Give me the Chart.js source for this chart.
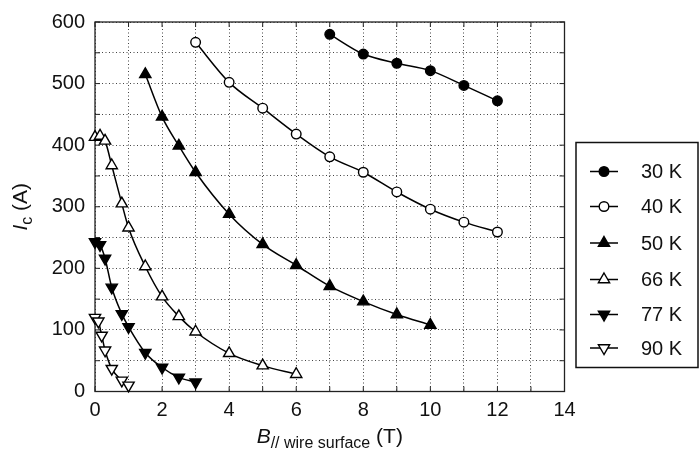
<!DOCTYPE html>
<html>
<head>
<meta charset="utf-8">
<script src="https://cdn.jsdelivr.net/npm/chart.js@4"></script>
<style>
  html, body { margin: 0; padding: 0; background: #fff; }
  #wrap { width: 700px; height: 452px; }
</style>
</head>
<body>
<div id="wrap"><canvas id="icChart" width="700" height="452"></canvas></div>
<script>
// critical current vs. field parallel to the wire surface, per temperature
const labels = ["30 K", "40 K", "50 K", "66 K", "77 K", "90 K"];

const field30 = [7, 8, 9, 10, 11, 12];
const ic30 = [580, 548, 533, 521, 497, 472];

const field40 = [3, 4, 5, 6, 7, 8, 9, 10, 11, 12];
const ic40 = [567, 502, 460, 418, 381, 356, 324, 296, 275, 259];

const field50 = [1.5, 2, 2.5, 3, 4, 5, 6, 7, 8, 9, 10];
const ic50 = [515, 446, 399, 356, 288, 239, 205, 171, 146, 125, 108];

const field66 = [0, 0.15, 0.3, 0.5, 0.8, 1, 1.5, 2, 2.5, 3, 4, 5, 6];
const ic66 = [413, 415, 407, 367, 305, 266, 203, 154, 122, 97, 62, 42, 28];

const field77 = [0, 0.15, 0.3, 0.5, 0.8, 1, 1.5, 2, 2.5, 3];
const ic77 = [243, 238, 216, 169, 126, 105, 63, 39, 23, 15];

const field90 = [0, 0.1, 0.2, 0.3, 0.5, 0.8, 1];
const ic90 = [120, 114, 91, 67, 37, 18, 10];

const xTicks = [0, 2, 4, 6, 8, 10, 12, 14];
const yTicks = [0, 100, 200, 300, 400, 500, 600];

const FONT = "'Liberation Sans', Arial, sans-serif";

function pts(xs, ys) {
  return xs.map((x, i) => ({ x: x, y: ys[i] }));
}

// marker look per series: [style, filled, rotation, radius]
const markers = [
  ["circle", true, 0, 4.8],
  ["circle", false, 0, 4.8],
  ["triangle", true, 0, 6.5],
  ["triangle", false, 0, 6.5],
  ["triangle", true, 180, 6.5],
  ["triangle", false, 180, 6.5]
];

const series = [
  pts(field30, ic30), pts(field40, ic40), pts(field50, ic50),
  pts(field66, ic66), pts(field77, ic77), pts(field90, ic90)
];

const datasets = series.map((data, i) => {
  const [style, filled, rot, r] = markers[i];
  return {
    label: labels[i],
    data,
    showLine: true,
    cubicInterpolationMode: "monotone",
    borderColor: "#000",
    borderWidth: 1.5,
    pointStyle: style,
    pointRotation: rot,
    pointRadius: r,
    pointBorderWidth: 1.4,
    pointBackgroundColor: filled ? "#000" : "#fff",
    pointBorderColor: "#000",
    clip: false
  };
});

// frame + inward tick marks (every grid step) on all four sides
const framePlugin = {
  id: "frame",
  beforeDatasetsDraw(chart) {
    const { ctx, chartArea: a, scales } = chart;
    ctx.save();
    ctx.strokeStyle = "#222";
    ctx.lineWidth = 1.3;
    ctx.strokeRect(a.left, a.top, a.right - a.left, a.bottom - a.top);
    ctx.lineWidth = 1;
    ctx.beginPath();
    for (let v = 0; v <= 14; v++) {
      const x = scales.x.getPixelForValue(v);
      ctx.moveTo(x, a.bottom); ctx.lineTo(x, a.bottom - 5);
      ctx.moveTo(x, a.top); ctx.lineTo(x, a.top + 5);
    }
    for (let v = 0; v <= 600; v += 50) {
      const y = scales.y.getPixelForValue(v);
      ctx.moveTo(a.left, y); ctx.lineTo(a.left + 5, y);
      ctx.moveTo(a.right, y); ctx.lineTo(a.right - 5, y);
    }
    ctx.stroke();
    ctx.restore();
  }
};

// axis titles with italic symbols and subscripts
const titlePlugin = {
  id: "titles",
  afterDraw(chart) {
    const { ctx, chartArea: a } = chart;
    ctx.save();
    ctx.fillStyle = "#111";
    ctx.textBaseline = "alphabetic";
    ctx.textAlign = "left";

    // x title: B// wire surface (T)
    const xParts = [
      { t: "B", f: "italic 21px " + FONT, dy: 0 },
      { t: "// wire surface", f: "16px " + FONT, dy: 5 },
      { t: " (T)", f: "21px " + FONT, dy: 0 }
    ];
    let w = 0;
    xParts.forEach(p => { ctx.font = p.f; w += ctx.measureText(p.t).width; });
    let x = (a.left + a.right) / 2 - w / 2;
    xParts.forEach(p => {
      ctx.font = p.f;
      ctx.fillText(p.t, x, 443 + p.dy);
      x += ctx.measureText(p.t).width;
    });

    // y title: Ic (A), rotated
    const yParts = [
      { t: "I", f: "italic 21px " + FONT, dy: 0 },
      { t: "c", f: "16px " + FONT, dy: 5 },
      { t: " (A)", f: "21px " + FONT, dy: 0 }
    ];
    w = 0;
    yParts.forEach(p => { ctx.font = p.f; w += ctx.measureText(p.t).width; });
    ctx.translate(27, (a.top + a.bottom) / 2);
    ctx.rotate(-Math.PI / 2);
    x = -w / 2;
    yParts.forEach(p => {
      ctx.font = p.f;
      ctx.fillText(p.t, x, p.dy);
      x += ctx.measureText(p.t).width;
    });
    ctx.restore();
  }
};

// boxed legend on the right
const legendPlugin = {
  id: "boxLegend",
  afterDraw(chart) {
    const { ctx } = chart;
    const box = { left: 576, top: 142.5, right: 698, bottom: 367.5 };
    const rowY = [171.5, 206.5, 243, 279.5, 314.5, 348];
    ctx.save();
    ctx.strokeStyle = "#111";
    ctx.lineWidth = 1.5;
    ctx.strokeRect(box.left, box.top, box.right - box.left, box.bottom - box.top);
    chart.data.datasets.forEach((ds, i) => {
      const y = rowY[i];
      ctx.strokeStyle = "#000";
      ctx.lineWidth = 1.5;
      ctx.beginPath();
      ctx.moveTo(590, y); ctx.lineTo(618, y);
      ctx.stroke();
      ctx.fillStyle = ds.pointBackgroundColor;
      ctx.lineWidth = 1.4;
      Chart.helpers.drawPoint(ctx, {
        pointStyle: ds.pointStyle,
        rotation: ds.pointRotation,
        radius: ds.pointRadius,
        borderWidth: 1.4
      }, 604, y);
      ctx.fillStyle = "#111";
      ctx.font = "20px " + FONT;
      ctx.textBaseline = "middle";
      ctx.fillText(ds.label, 641, y + 1);
    });
    ctx.restore();
  }
};

const ctx = document.getElementById("icChart").getContext("2d");
new Chart(ctx, {
  type: "scatter",
  data: { datasets },
  options: {
    responsive: false,
    animation: false,
    layout: { padding: { left: 0, top: 18, right: 135.5, bottom: 0 } },
    plugins: {
      legend: { display: false },
      tooltip: { enabled: false }
    },
    scales: {
      x: {
        type: "linear",
        min: 0,
        max: 14,
        afterFit: s => { s.height = 60.5; },
        border: { display: false, dash: [1, 2.5] },
        grid: { color: "#444", lineWidth: 1, drawTicks: false },
        ticks: {
          stepSize: 1,
          autoSkip: false,
          maxRotation: 0,
          padding: 7,
          color: "#111",
          font: { family: FONT, size: 20 },
          callback: v => (xTicks.includes(v) ? String(v) : "")
        }
      },
      y: {
        type: "linear",
        min: 0,
        max: 600,
        afterFit: s => { s.width = 95; },
        border: { display: false, dash: [1, 2.5] },
        grid: { color: "#444", lineWidth: 1, drawTicks: false },
        ticks: {
          stepSize: 50,
          autoSkip: false,
          padding: 10,
          color: "#111",
          font: { family: FONT, size: 20 },
          callback: v => (yTicks.includes(v) ? String(v) : "")
        }
      }
    }
  },
  plugins: [framePlugin, titlePlugin, legendPlugin]
});
</script>
</body>
</html>
